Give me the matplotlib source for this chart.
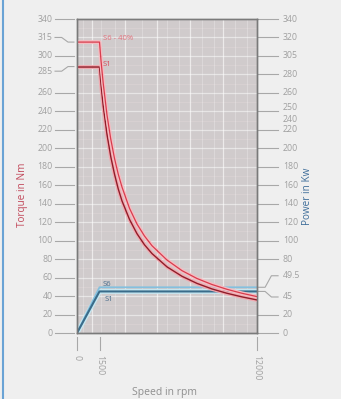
import matplotlib.pyplot as plt
from matplotlib.lines import Line2D

plt.rcParams['font.family'] = ['Open Sans', 'DejaVu Sans']

# Torque curves (Nm)
speed_s6 = [0, 1500, 1600, 1750, 2000, 2250, 2500, 2750, 3000, 3500, 4000, 4500,
            5000, 6000, 7000, 8000, 9000, 10000, 11000, 12000]
torque_s6 = [315, 315, 295, 270, 236, 210, 189, 172, 158, 135, 118, 105,
             94.5, 79, 67.5, 59, 52.5, 47.3, 43, 39.4]
speed_s1 = [0, 1500, 1600, 1750, 2000, 2250, 2500, 2750, 3000, 3500, 4000, 4500,
            5000, 6000, 7000, 8000, 9000, 10000, 11000, 12000]
torque_s1 = [288, 288, 269, 245.5, 215, 191, 172, 156, 143, 123, 107.5, 95.5,
             86, 71.6, 61.4, 53.7, 47.7, 43, 39.1, 35.8]

# Power curves (kW)
speed_pw = [0, 1500, 12000]
power_s6 = [0, 49.5, 49.5]
power_s1 = [0, 45, 45]

# Axis labels
x_ticks = [0, 1500, 12000]
left_ticks = [0, 20, 40, 60, 80, 100, 120, 140, 160, 180, 200, 220, 240, 260, 300, 340]
left_leaders = [('315', 320, 315), ('285', 283.5, 288.5)]
right_ticks = [0, 20, 80, 100, 120, 140, 160, 180, 200, 220, 240, 260, 280, 300, 320, 340]
right_labels = ['0', '20', '80', '100', '120', '140', '160', '180', '200', '220', '',
                '260', '280', '305', '320', '340']
right_extra = [('250', 244), ('240', 231)]
right_leaders = [('49.5', 62, 49.5), ('45', 39, 45)]

fig = plt.figure(figsize=(3.41, 3.99), dpi=100)
fig.patch.set_facecolor('#efefef')
fig.add_artist(Line2D([2.5 / 341, 2.5 / 341], [0, 1], color='#6aa3d5', lw=1.5))

ax2 = fig.add_axes([77 / 341, 66 / 399, 180 / 341, 314 / 399])
ax = ax2.twinx()
ax2.set_zorder(0)
ax.set_zorder(1)
ax.patch.set_visible(False)
ax2.set_facecolor('#d0cbcc')
ax2.yaxis.tick_right()

for a in (ax, ax2):
    a.set_xlim(0, 12000)
    a.set_ylim(0, 340)
    a.set_xticks([])
    a.set_yticks([])
    for s in a.spines.values():
        s.set_color('#7a7a7a')
        s.set_linewidth(1)

# grid
for v in range(0, 341, 10):
    if v % 20 == 0:
        ax2.axhline(v, color='white', lw=0.9, alpha=0.5)
    else:
        ax2.axhline(v, color='#f4e4e6', lw=0.5, alpha=0.3)
for v in [1000, 3200, 5350, 7550, 9700]:
    ax2.axvline(v, color='white', lw=0.9, alpha=0.6)
for v in [400, 1600, 2500, 4300, 6000, 6800, 8300, 9100, 10500, 11300]:
    ax2.axvline(v, color='white', lw=0.5, alpha=0.35)

# power
ax2.plot(speed_pw, power_s1, color='#c6e7f1', lw=3.5, solid_capstyle='butt')
ax2.plot(speed_pw, power_s6, color='#84c0de', lw=1.3)
ax2.plot(speed_pw, power_s1, color='#3a6c8a', lw=1.5)

# torque
ax.plot(speed_s1, torque_s1, color='#f1a9b0', lw=2.8)
ax.plot(speed_s1, torque_s1, color='#8f1d29', lw=1.0)
ax.plot(speed_s6, torque_s6, color='#f5bcc1', lw=2.8)
ax.plot(speed_s6, torque_s6, color='#d93c4d', lw=0.9)

ax.text(1730, 319, 'S6 - 40%', color='#e2707b', fontsize=5.5, va='center')
ax.text(1730, 291, 'S1', color='#d94b5a', fontsize=5.5, va='center')
ax.text(1730, 53, 'S6', color='#4a6d8c', fontsize=5.5, va='center')
ax.text(1850, 36, 'S1', color='#4a6d8c', fontsize=5.5, va='center')

tick_c = '#a8a8a8'
lab_c = '#a0a0a0'
fs = 6.3

ly = ax.get_yaxis_transform()
for v in left_ticks:
    ax.plot([-0.122, -0.017], [v, v], color=tick_c, lw=0.8, transform=ly, clip_on=False)
    ax.text(-0.135, v, str(v), color=lab_c, fontsize=fs, ha='right', va='center', transform=ly)
for lab, ly_val, target in left_leaders:
    ax.plot([-0.122, -0.085, -0.05, -0.017], [ly_val, ly_val, target, target],
            color=tick_c, lw=0.8, transform=ly, clip_on=False)
    ax.text(-0.135, ly_val, lab, color=lab_c, fontsize=fs, ha='right', va='center', transform=ly)

ry = ax2.get_yaxis_transform()
for v, lab in zip(right_ticks, right_labels):
    ax2.plot([1.006, 1.117], [v, v], color=tick_c, lw=0.8, transform=ry, clip_on=False)
    ax2.text(1.144, v, lab, color=lab_c, fontsize=fs, ha='left', va='center', transform=ry)
for lab, v in right_extra:
    ax2.text(1.144, v, lab, color=lab_c, fontsize=fs, ha='left', va='center', transform=ry)
for lab, ly_val, target in right_leaders:
    ax2.plot([1.006, 1.045, 1.08, 1.117], [target, target, ly_val, ly_val],
             color=tick_c, lw=0.8, transform=ry, clip_on=False)
    ax2.text(1.144, ly_val, lab, color=lab_c, fontsize=fs, ha='left', va='center', transform=ry)

bx = ax.get_xaxis_transform()
for v in x_ticks:
    ax.plot([v, v], [-0.013, -0.054], color=tick_c, lw=0.8, transform=bx, clip_on=False)
    ax.text(v, -0.07, str(v), color=lab_c, fontsize=fs, rotation=270,
            ha='center', va='top', transform=bx)

fig.text(165 / 341, 1 - 392 / 399, 'Speed in rpm', color='#8f8f8f', fontsize=7.5,
         ha='center', va='center')
fig.text(22 / 341, 1 - 195 / 399, 'Torque in Nm', color='#c24a5c', fontsize=7.2,
         rotation=90, ha='center', va='center')
fig.text(308 / 341, 1 - 196 / 399, 'Power in Kw', color='#3f6e9a', fontsize=7.2,
         rotation=90, ha='center', va='center')

fig.savefig('out.png', dpi=100, facecolor=fig.get_facecolor())
